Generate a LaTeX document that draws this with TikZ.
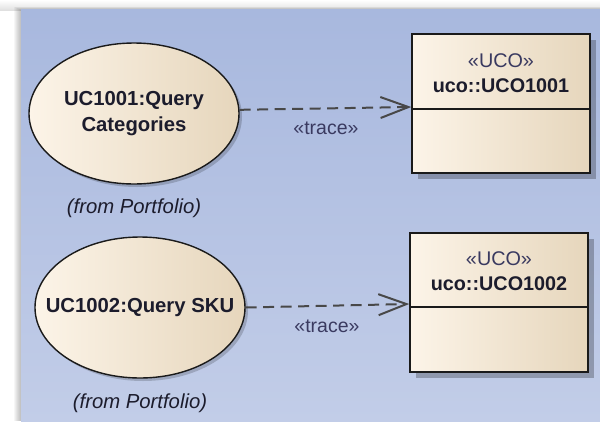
\documentclass[tikz,border=0pt]{standalone}
\usepackage{fontspec}
\setmainfont{Liberation Sans}
\usetikzlibrary{shapes.geometric,arrows.meta,shadows,calc}
\definecolor{panelTop}{RGB}{168,184,222}
\definecolor{panelBot}{RGB}{194,205,232}
\definecolor{creamL}{RGB}{252,244,232}
\definecolor{creamR}{RGB}{230,214,188}
\definecolor{edge}{RGB}{26,26,26}
\definecolor{txt}{RGB}{28,28,44}
\definecolor{stereo}{RGB}{58,58,96}
\definecolor{conn}{RGB}{72,72,72}
\tikzset{
  usecase/.style={ellipse, draw=edge, line width=1.4pt, minimum width=210pt, minimum height=141pt, inner sep=-60pt,
    left color=creamL, right color=creamR,
    drop shadow={shadow xshift=3pt, shadow yshift=-3pt, fill=black, opacity=0.18},
    font=\fontsize{20.3}{26}\selectfont\bfseries, text=txt, align=center},
  classbox/.style={rectangle, draw=edge, line width=1.4pt, minimum width=178pt, minimum height=139pt, inner sep=0pt,
    left color=creamL, right color=creamR,
    drop shadow={shadow xshift=6pt, shadow yshift=-6pt, fill=black, opacity=0.25}},
  fromtxt/.style={font=\fontsize{20.3}{24}\selectfont\itshape, text=txt},
  stereotxt/.style={font=\fontsize{19.8}{25}\selectfont, text=stereo, align=center},
  tracedep/.style={draw=conn, line width=2pt, dash pattern=on 11pt off 6.5pt, -{Straight Barb[length=28pt,width=21pt,line width=2pt]}},
  tracelbl/.style={font=\fontsize{19.5}{22}\selectfont, text=stereo, inner sep=0pt}
}
\begin{document}
\begin{tikzpicture}[x=1pt,y=-1pt]
\useasboundingbox (0,0) rectangle (600,421);
% outer background
\fill[white] (0,0) rectangle (600,421);
\shade[top color=white, bottom color=black!12] (0,0) rectangle (600,10);
\foreach \i in {1,...,7} {
  \fill[black, opacity=0.035] (21-\i,10-0.5*\i) rectangle (600,421);
}
% panel
\shade[top color=panelTop, bottom color=panelBot] (21,9.5) rectangle (600,421);

% use cases
\node[usecase] (e1) at (134,113.5) {UC1001:Query\\Categories};
\node[usecase] (e2) at (140,307.5) {UC1002:Query SKU};
\node[fromtxt] (f1) at ($(e1.south)+(0,24)$) {(from Portfolio)};
\node[fromtxt] (f2) at ($(e2.south)+(0,25)$) {(from Portfolio)};

% classes
\node[classbox] (b1) at (501,103.5) {};
\node[classbox] (b2) at (499,302.5) {};
\draw[edge, line width=1.4pt] ([yshift=-5.5pt]b1.west) -- ([yshift=-5.5pt]b1.east);
\draw[edge, line width=1.4pt] ([yshift=-4.5pt]b2.west) -- ([yshift=-4.5pt]b2.east);
\node[stereotxt] (s1) at ($(b1.north)+(0,27)$) {«UCO»};
\node[stereotxt, font=\fontsize{19.8}{25}\selectfont\bfseries, text=txt] (n1) at ($(b1.north)+(0,52)$) {uco::UCO1001};
\node[stereotxt] (s2) at ($(b2.north)+(0,26)$) {«UCO»};
\node[stereotxt, font=\fontsize{19.8}{25}\selectfont\bfseries, text=txt] (n2) at ($(b2.north)+(0,51)$) {uco::UCO1002};

% dependencies
\coordinate (t1) at ([yshift=-3.5pt]b1.west);
\coordinate (t2) at ([yshift=-1.5pt]b2.west);
\draw[tracedep] (e1.2) -- (t1);
\draw[tracedep] (e2.0) -- (t2);
\node[tracelbl] (l1) at (326,128) {«trace»};
\node[tracelbl] (l2) at (327,326) {«trace»};
\end{tikzpicture}
\end{document}
